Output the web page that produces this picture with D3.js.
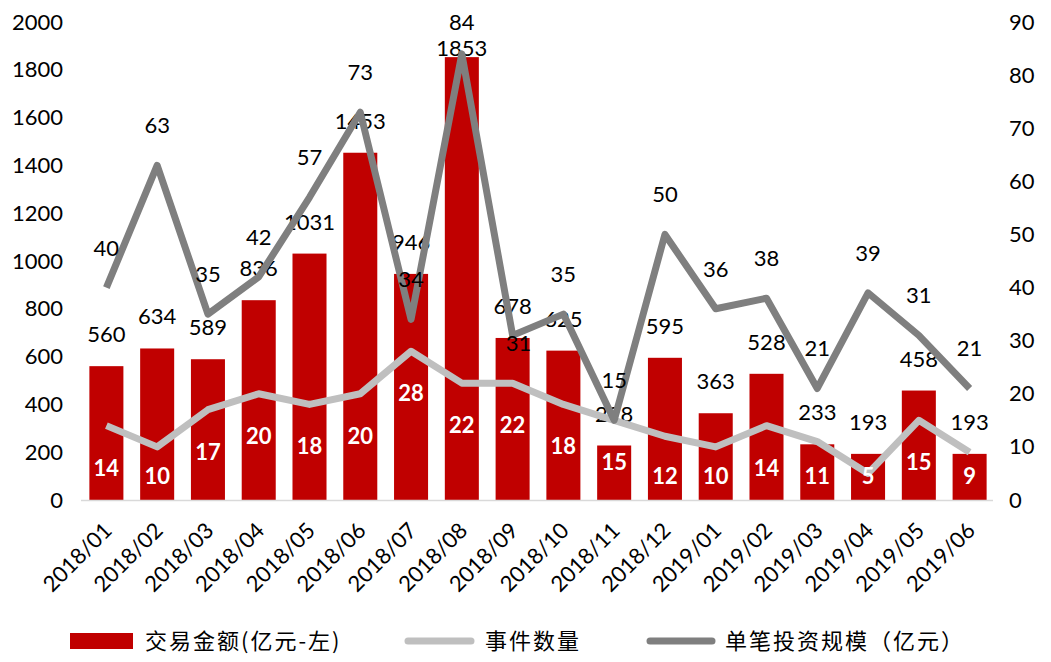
<!DOCTYPE html>
<html>
<head>
<meta charset="utf-8">
<script src="https://cdn.jsdelivr.net/npm/d3@7"></script>
<style>
body{margin:0;background:#fff;}
text{font-family:Lato,"Open Sans",sans-serif;}
</style>
</head>
<body>
<script>
const months=["2018/01","2018/02","2018/03","2018/04","2018/05","2018/06","2018/07","2018/08","2018/09","2018/10","2018/11","2018/12","2019/01","2019/02","2019/03","2019/04","2019/05","2019/06"];
const amount=[560,634,589,836,1031,1453,946,1853,678,625,228,595,363,528,233,193,458,193];
const events=[14,10,17,20,18,20,28,22,22,18,15,12,10,14,11,5,15,9];
const perDeal=[40,63,35,42,57,73,34,84,31,35,15,50,36,38,21,39,31,21];
const leftTicks=d3.range(0,2001,200);
const rightTicks=d3.range(0,91,10);
const legendNames=["交易金额(亿元-左)","事件数量","单笔投资规模（亿元）"];

const w=1051,h=662;
const pLeft=81,pRight=995,pTop=22,pBottom=500;

const svg=d3.select("body").append("svg")
  .attr("width",w)
  .attr("height",h);

let x=d3.scaleBand()
  .domain(months)
  .range([pLeft,pRight])
  .paddingInner(0.33)
  .paddingOuter(0.165);

let yL=d3.scaleLinear().domain([0,2000]).range([pBottom,pTop]);
let yR=d3.scaleLinear().domain([0,90]).range([pBottom,pTop]);

// axes (text only)
const axL=svg.append("g")
  .attr("transform","translate("+(pLeft-8)+",0)")
  .call(d3.axisLeft(yL).tickValues(leftTicks).tickFormat(d3.format("d")).tickSize(0).tickPadding(10));
const axR=svg.append("g")
  .attr("transform","translate("+(pRight+5)+",0)")
  .call(d3.axisRight(yR).tickValues(rightTicks).tickFormat(d3.format("d")).tickSize(0).tickPadding(9));
[axL,axR].forEach(function(a){
  a.select(".domain").remove();
  a.selectAll("text").attr("font-size",22).attr("fill","#000").style("font-family","Lato,sans-serif");
});

// bars
svg.selectAll("rect.bar")
  .data(amount)
  .enter()
  .append("rect")
  .attr("class","bar")
  .attr("x",function(d,i){ return x(months[i]); })
  .attr("y",function(d){ return yL(d); })
  .attr("width",x.bandwidth())
  .attr("height",function(d){ return pBottom-yL(d); })
  .attr("fill","#c00000");

// x axis line
svg.append("line")
  .attr("x1",pLeft).attr("x2",pRight-2)
  .attr("y1",pBottom+0.5).attr("y2",pBottom+0.5)
  .attr("stroke","#d9d9d9").attr("stroke-width",1.5);

// x labels
svg.selectAll("text.xlab")
  .data(months)
  .enter()
  .append("text")
  .attr("class","xlab")
  .attr("text-anchor","end")
  .attr("font-size",22)
  .attr("transform",function(d){
    return "translate("+(x(d)+x.bandwidth()/2+7)+","+(pBottom+32)+") rotate(-45)";
  })
  .text(function(d){ return d; });

// bar value labels
const amtY=function(d){ return Math.max(yL(d)-32,48); };
svg.selectAll("text.amt")
  .data(amount)
  .enter()
  .append("text")
  .attr("class","amt")
  .attr("text-anchor","middle")
  .attr("font-size",22)
  .attr("x",function(d,i){ return x(months[i])+x.bandwidth()/2; })
  .attr("y",function(d){ return amtY(d)+8; })
  .text(function(d){ return d; });

const cx=function(d,i){ return x(months[i])+x.bandwidth()/2; };

// lines
const lineE=d3.line().x(cx).y(function(d){ return yR(d); });
svg.append("path")
  .datum(events)
  .attr("d",lineE)
  .attr("fill","none")
  .attr("stroke","#bfbfbf")
  .attr("stroke-width",7)
  .attr("stroke-linejoin","round");

const lineP=d3.line().x(cx).y(function(d){ return yR(d); });
svg.append("path")
  .datum(perDeal)
  .attr("d",lineP)
  .attr("fill","none")
  .attr("stroke","#7f7f7f")
  .attr("stroke-width",7)
  .attr("stroke-linejoin","round");

// event labels (white, bold)
svg.selectAll("text.ev")
  .data(events)
  .enter()
  .append("text")
  .attr("class","ev")
  .attr("text-anchor","middle")
  .attr("font-size",22)
  .attr("font-weight","bold")
  .attr("fill","#fff")
  .attr("x",cx)
  .attr("y",function(d){ return Math.min(yR(d)+42,476)+8; })
  .text(function(d){ return d; });

// per-deal labels: above the point, below it if it would hit the bar label
svg.selectAll("text.pd")
  .data(perDeal)
  .enter()
  .append("text")
  .attr("class","pd")
  .attr("text-anchor","middle")
  .attr("font-size",22)
  .attr("x",function(d,i){
    const up=Math.max(yR(d)-40,22);
    return Math.abs(up-amtY(amount[i]))<20 ? cx(d,i)+6 : cx(d,i);
  })
  .attr("y",function(d,i){
    const up=Math.max(yR(d)-40,22);
    return (Math.abs(up-amtY(amount[i]))<20 ? yR(d)+8 : up)+8;
  })
  .text(function(d){ return d; });

// legend
const lg=svg.append("g").attr("transform","translate(0,641)");
lg.append("rect").attr("x",70).attr("y",-8).attr("width",63).attr("height",16).attr("fill","#c00000");
lg.append("line").attr("x1",408).attr("x2",471).attr("y1",0).attr("y2",0)
  .attr("stroke","#bfbfbf").attr("stroke-width",7).attr("stroke-linecap","round");
lg.append("line").attr("x1",650).attr("x2",712).attr("y1",0).attr("y2",0)
  .attr("stroke","#7f7f7f").attr("stroke-width",7).attr("stroke-linecap","round");
const lgx=[145,485,725];
lg.selectAll("text")
  .data(legendNames)
  .enter()
  .append("text")
  .attr("x",function(d,i){ return lgx[i]; })
  .attr("y",8)
  .attr("font-size",22)
  .attr("letter-spacing",2)
  .style("font-family","'Noto Sans CJK SC',sans-serif")
  .text(function(d){ return d; });
</script>
</body>
</html>
